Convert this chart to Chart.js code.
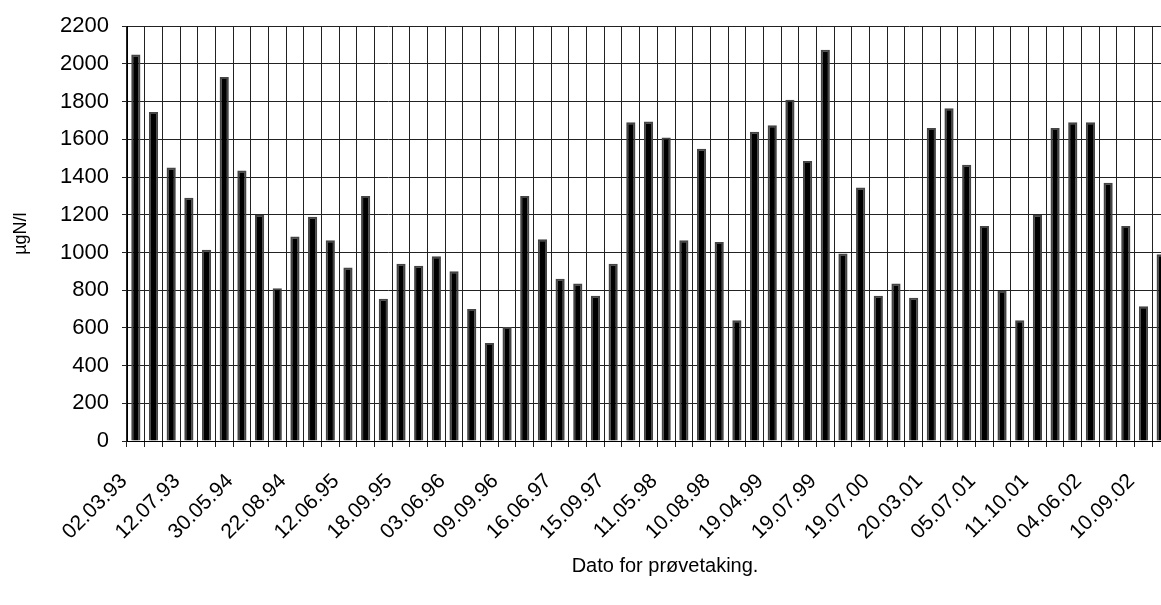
<!DOCTYPE html>
<html>
<head>
<meta charset="utf-8">
<script src="https://cdn.jsdelivr.net/npm/chart.js@4/dist/chart.umd.min.js"></script>
<style>
  html, body { margin: 0; padding: 0; background: #fff; overflow: hidden; }
  #wrap { position: relative; width: 1170px; height: 605px; }
</style>
</head>
<body>
<div id="wrap"><canvas id="chart"></canvas></div>
<script>
/* Datoer som vises på aksen (hver tredje prøve) */
const shownDates = [
  "02.03.93", "12.07.93", "30.05.94", "22.08.94", "12.06.95",
  "18.09.95", "03.06.96", "09.09.96", "16.06.97", "15.09.97",
  "11.05.98", "10.08.98", "19.04.99", "19.07.99", "19.07.00",
  "20.03.01", "05.07.01", "11.10.01", "04.06.02", "10.09.02"
];

/* Målte verdier, µgN/l */
const values = [
  2050, 1745, 1450, 1290, 1015, 1930, 1435, 1200, 810, 1085,
  1190, 1065, 920, 1300, 755, 940, 930, 980, 900, 700,
  520, 605, 1300, 1070, 860, 835, 770, 940, 1690, 1695,
  1610, 1065, 1550, 1055, 640, 1640, 1675, 1810, 1485, 2075,
  995, 1345, 770, 835, 760, 1660, 1765, 1465, 1140, 795,
  640, 1200, 1660, 1690, 1690, 1370, 1140, 715, 990
];

const yTicks = [0, 200, 400, 600, 800, 1000, 1200, 1400, 1600, 1800, 2000, 2200];

/* Kategorier: bare hver tredje har synlig dato */
const categories = values.map(function (v, i) {
  return i % 3 === 0 ? shownDates[i / 3] : "";
});

const FONT = "'Liberation Sans', Arial, sans-serif";
const xTitle = "Dato for prøvetaking.";

/* Aksetittel for x, sentrert under det synlige diagrammet */
const xTitlePlugin = {
  id: "xTitle",
  afterDraw: function (chart) {
    const c = chart.ctx;
    c.save();
    c.font = "20px " + FONT;
    c.fillStyle = "#000";
    c.textAlign = "center";
    c.textBaseline = "middle";
    c.fillText(xTitle, 665, 566);
    c.restore();
  },
};

const ctx = document.getElementById("chart").getContext("2d");
new Chart(ctx, {
  type: "bar",
  data: {
    labels: categories,
    datasets: [
      {
        data: values,
        backgroundColor: "#000",
        borderColor: "#444",
        borderWidth: 2,
        barPercentage: 0.52,
        categoryPercentage: 1,
      },
    ],
  },
  plugins: [xTitlePlugin],
  options: {
    responsive: true,
    maintainAspectRatio: false,
    animation: false,
    layout: { padding: { top: 24, left: 0, right: 0, bottom: 0 } },
    plugins: {
      legend: { display: false },
      tooltip: { enabled: false },
    },
    scales: {
      x: {
        offset: true,
        grid: {
          offset: true,
          color: "#222",
          lineWidth: 1,
          tickLength: 6,
        },
        border: { color: "#000", width: 1 },
        ticks: {
          autoSkip: false,
          maxRotation: 45,
          minRotation: 45,
          color: "#000",
          padding: 22,
          labelOffset: -12,
          font: { family: FONT, size: 21 },
        },
        afterFit: function (scale) {
          scale.height = 164;
          /* plottet går helt ut til høyre kant, som i originalen */
          scale.paddingLeft = 0;
          scale.paddingRight = 0;
        },
      },
      y: {
        min: 0,
        max: 2200,
        afterBuildTicks: function (scale) {
          scale.ticks = yTicks.map(function (v) { return { value: v }; });
        },
        grid: {
          color: "#222",
          lineWidth: 1,
          tickLength: 5,
        },
        border: { color: "#000", width: 1 },
        ticks: {
          color: "#000",
          padding: 13,
          font: { family: FONT, size: 22 },
          callback: function (v) { return String(v); },
        },
        title: {
          display: true,
          text: "µgN/l",
          color: "#000",
          font: { family: FONT, size: 18 },
          padding: { top: 10, bottom: 0 },
        },
        afterFit: function (scale) {
          scale.width = 127;
        },
      },
    },
  },
});
</script>
</body>
</html>
